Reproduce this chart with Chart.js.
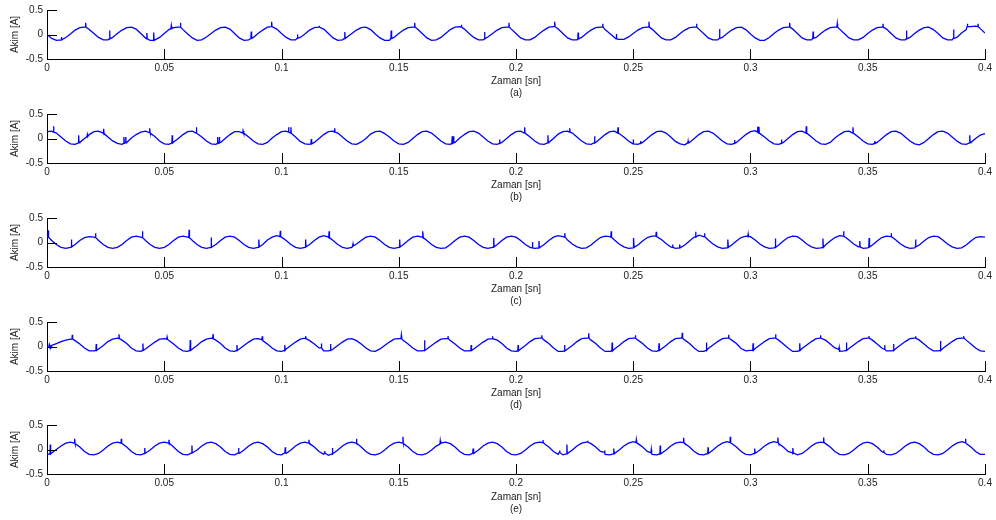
<!DOCTYPE html>
<html><head><meta charset="utf-8">
<script src="https://cdn.jsdelivr.net/npm/chart.js@4.4.1/dist/chart.umd.min.js"></script>
<style>
html,body{margin:0;padding:0;background:#fff;width:996px;height:520px;overflow:hidden;}
canvas{position:absolute;left:0;}
</style></head><body>
<script>
// ---------- data ----------
const panelLabels = ['(a)', '(b)', '(c)', '(d)', '(e)'];
const xTitle = 'Zaman [sn]';
const yTitle = 'Akim [A]';
const xTickValues = [0, 0.05, 0.1, 0.15, 0.2, 0.25, 0.3, 0.35, 0.4];
const xTickLabels = ['0', '0.05', '0.1', '0.15', '0.2', '0.25', '0.3', '0.35', '0.4'];
const yTickValues = [-0.5, 0, 0.5];
const yTickLabels = ['-0.5', '0', '0.5'];
const sampleStep = 0.002; // seconds between base samples

const baseA = [
 0.00,-0.08,-0.12,-0.11,-0.06, 0.01, 0.09, 0.14, 0.15, 0.10,
 0.02,-0.06,-0.11,-0.11,-0.06, 0.02, 0.09, 0.14, 0.15, 0.11,
 0.02,-0.07,-0.12,-0.12,-0.06, 0.02, 0.10, 0.14, 0.15, 0.10,
 0.01,-0.07,-0.12,-0.11,-0.05, 0.02, 0.09, 0.14, 0.15, 0.11,
 0.02,-0.07,-0.12,-0.11,-0.06, 0.02, 0.09, 0.15, 0.16, 0.11,
 0.02,-0.06,-0.11,-0.11,-0.06, 0.01, 0.09, 0.14, 0.15, 0.11,
 0.02,-0.07,-0.12,-0.11,-0.05, 0.02, 0.09, 0.14, 0.15, 0.10,
 0.01,-0.07,-0.12,-0.12,-0.06, 0.02, 0.09, 0.14, 0.15, 0.11,
 0.02,-0.07,-0.12,-0.11,-0.06, 0.02, 0.10, 0.15, 0.16, 0.11,
 0.02,-0.06,-0.11,-0.11,-0.05, 0.02, 0.09, 0.14, 0.15, 0.11,
 0.02,-0.07,-0.11,-0.11,-0.06, 0.02, 0.09, 0.15, 0.16, 0.11,
 0.02,-0.07,-0.11,-0.11,-0.06, 0.02, 0.09, 0.14, 0.15, 0.10,
 0.02,-0.06,-0.10,-0.10,-0.05, 0.02, 0.09, 0.14, 0.15, 0.11,
 0.02,-0.07,-0.11,-0.11,-0.06, 0.02, 0.09, 0.14, 0.15, 0.11,
 0.02,-0.07,-0.11,-0.11,-0.06, 0.02, 0.09, 0.14, 0.15, 0.10,
 0.01,-0.07,-0.12,-0.12,-0.06, 0.02, 0.09, 0.14, 0.15, 0.11,
 0.02,-0.07,-0.11,-0.11,-0.06, 0.02, 0.09, 0.14, 0.15, 0.11,
 0.02,-0.07,-0.11,-0.11,-0.06, 0.02, 0.09, 0.14, 0.15, 0.11,
 0.02,-0.07,-0.11,-0.11,-0.06, 0.02, 0.09, 0.14, 0.15, 0.10,
 0.02,-0.07,-0.11,-0.11,-0.06, 0.03, 0.10, 0.16, 0.17, 0.12,
 0.03];
const spikesA = [ // [time, base, tip]
 [0.0062,-0.11,-0.05],[0.0165,0.15,0.24],[0.0267,-0.09,0.08],[0.0426,-0.09,0.03],[0.0455,-0.12,0.04],
 [0.0530,0.12,0.18],[0.0569,0.15,0.24],[0.0871,-0.08,0.06],[0.0958,0.16,0.26],[0.1068,-0.08,0.00],
 [0.1160,0.15,0.18],[0.1270,-0.08,0.05],[0.1468,-0.08,0.08],[0.1568,0.15,0.24],[0.1767,0.15,0.20],
 [0.1866,-0.09,0.05],[0.1970,0.15,0.24],[0.2165,0.16,0.26],[0.2265,-0.09,0.04],[0.2370,0.15,0.22],
 [0.2428,-0.09,0.01],[0.2567,0.15,0.26],[0.2770,0.15,0.22],[0.2868,-0.08,0.11],[0.3167,0.15,0.24],
 [0.3267,-0.08,0.06],[0.3370,0.15,0.22],[0.3565,0.15,0.22],[0.3665,-0.09,0.08],[0.3866,-0.08,0.10],
 [0.3925,0.16,0.22],[0.3970,0.16,0.22]];

const baseB = [
 0.14, 0.15, 0.11, 0.03,-0.05,-0.11,-0.12,-0.08, 0.00, 0.08,
 0.14, 0.15, 0.11, 0.03,-0.05,-0.10,-0.12,-0.08, 0.01, 0.08,
 0.13, 0.15, 0.11, 0.04,-0.05,-0.11,-0.12,-0.07, 0.00, 0.08,
 0.14, 0.15, 0.10, 0.03,-0.05,-0.11,-0.12,-0.08, 0.00, 0.08,
 0.14, 0.14, 0.11, 0.03,-0.05,-0.11,-0.12,-0.08, 0.01, 0.08,
 0.14, 0.15, 0.11, 0.03,-0.06,-0.11,-0.12,-0.08, 0.00, 0.08,
 0.14, 0.15, 0.11, 0.03,-0.05,-0.11,-0.12,-0.07, 0.00, 0.09,
 0.14, 0.15, 0.10, 0.03,-0.05,-0.11,-0.12,-0.08, 0.00, 0.08,
 0.14, 0.15, 0.11, 0.03,-0.05,-0.11,-0.12,-0.08, 0.01, 0.08,
 0.14, 0.15, 0.11, 0.03,-0.05,-0.11,-0.12,-0.08, 0.00, 0.08,
 0.14, 0.15, 0.11, 0.03,-0.05,-0.11,-0.12,-0.08, 0.00, 0.09,
 0.14, 0.15, 0.11, 0.03,-0.05,-0.11,-0.12,-0.08, 0.00, 0.08,
 0.14, 0.15, 0.10, 0.03,-0.05,-0.11,-0.12,-0.08, 0.00, 0.08,
 0.14, 0.15, 0.11, 0.03,-0.06,-0.11,-0.13,-0.08, 0.00, 0.08,
 0.14, 0.15, 0.11, 0.03,-0.05,-0.11,-0.12,-0.08, 0.00, 0.08,
 0.14, 0.16, 0.11, 0.03,-0.05,-0.11,-0.12,-0.08, 0.00, 0.08,
 0.14, 0.15, 0.11, 0.03,-0.05,-0.11,-0.12,-0.08, 0.01, 0.08,
 0.14, 0.15, 0.11, 0.03,-0.05,-0.11,-0.12,-0.08, 0.00, 0.08,
 0.14, 0.15, 0.11, 0.03,-0.05,-0.11,-0.13,-0.08, 0.00, 0.08,
 0.14, 0.15, 0.11, 0.03,-0.05,-0.11,-0.12,-0.08, 0.00, 0.07,
 0.10];
const spikesB = [
 [0.0028,0.13,0.25],[0.0135,-0.09,0.065],[0.0172,0.04,0.08],[0.0242,0.10,0.20],[0.0328,-0.10,0.03],
 [0.0336,-0.09,0.03],[0.0438,0.12,0.21],[0.0534,-0.09,0.065],[0.0637,0.11,0.23],[0.0728,-0.10,0.03],
 [0.0735,-0.09,0.03],[0.0836,0.11,0.16],[0.1030,0.13,0.23],[0.1040,0.11,0.23],[0.1127,-0.11,-0.01],
 [0.1227,0.13,0.21],[0.1728,-0.10,0.045],[0.1734,-0.09,0.045],[0.1930,-0.10,-0.02],[0.2037,0.11,0.23],
 [0.2136,-0.09,0.065],[0.2229,0.13,0.21],[0.2335,-0.09,0.045],[0.2435,0.11,0.23],[0.2500,-0.11,-0.02],
 [0.2531,-0.10,-0.05],[0.2734,-0.09,-0.05],[0.2932,-0.10,-0.03],[0.3030,0.13,0.24],[0.3036,0.11,0.24],
 [0.3132,-0.10,-0.02],[0.3238,0.11,0.25],[0.3437,0.11,0.23],[0.3530,-0.10,-0.05],[0.3935,-0.09,0.065]];

const baseC = [
 0.10, 0.04,-0.04,-0.10,-0.12,-0.10,-0.04, 0.04, 0.10, 0.12,
 0.11, 0.04,-0.04,-0.10,-0.12,-0.10,-0.04, 0.04, 0.11, 0.13,
 0.11, 0.04,-0.04,-0.10,-0.12,-0.10,-0.04, 0.04, 0.11, 0.13,
 0.11, 0.04,-0.04,-0.10,-0.12,-0.10,-0.04, 0.04, 0.11, 0.13,
 0.11, 0.04,-0.04,-0.10,-0.12,-0.10,-0.04, 0.05, 0.11, 0.14,
 0.11, 0.04,-0.04,-0.10,-0.12,-0.10,-0.04, 0.04, 0.11, 0.14,
 0.11, 0.04,-0.04,-0.10,-0.12,-0.10,-0.03, 0.04, 0.11, 0.13,
 0.11, 0.04,-0.04,-0.10,-0.12,-0.10,-0.04, 0.04, 0.11, 0.13,
 0.11, 0.04,-0.04,-0.10,-0.12,-0.11,-0.04, 0.04, 0.11, 0.13,
 0.11, 0.04,-0.04,-0.10,-0.12,-0.10,-0.04, 0.04, 0.11, 0.13,
 0.11, 0.04,-0.04,-0.10,-0.12,-0.11,-0.04, 0.04, 0.11, 0.14,
 0.12, 0.05,-0.03,-0.09,-0.12,-0.11,-0.05, 0.03, 0.10, 0.13,
 0.12, 0.05,-0.03,-0.09,-0.12,-0.11,-0.05, 0.03, 0.10, 0.13,
 0.12, 0.06,-0.02,-0.09,-0.12,-0.11,-0.05, 0.03, 0.11, 0.15,
 0.12, 0.05,-0.03,-0.09,-0.12,-0.11,-0.05, 0.03, 0.10, 0.13,
 0.12, 0.05,-0.03,-0.09,-0.12,-0.11,-0.05, 0.03, 0.10, 0.13,
 0.12, 0.05,-0.03,-0.09,-0.12,-0.11,-0.05, 0.03, 0.10, 0.14,
 0.12, 0.05,-0.03,-0.09,-0.12,-0.11,-0.05, 0.03, 0.10, 0.13,
 0.12, 0.05,-0.03,-0.09,-0.12,-0.11,-0.05, 0.03, 0.10, 0.13,
 0.12, 0.05,-0.03,-0.09,-0.12,-0.11,-0.05, 0.03, 0.10, 0.12,
 0.11];
const spikesC = [
 [0.0005,0.11,0.25],[0.0104,-0.09,0.06],[0.0207,0.10,0.19],[0.0407,0.10,0.23],[0.0606,0.10,0.26],
 [0.0700,-0.10,0.10],[0.0904,-0.09,0.06],[0.0995,0.12,0.24],[0.1103,-0.09,0.06],[0.1203,0.10,0.23],
 [0.1305,-0.07,-0.03],[0.1504,-0.09,0.06],[0.1603,0.10,0.23],[0.1905,-0.09,0.09],[0.2070,-0.11,0.01],
 [0.2098,-0.11,0.03],[0.2208,0.11,0.19],[0.2406,0.11,0.23],[0.2502,-0.10,0.09],[0.2598,0.13,0.22],
 [0.2668,-0.10,-0.04],[0.2698,-0.11,-0.04],[0.2766,0.11,0.22],[0.2804,0.12,0.19],[0.2904,-0.10,0.06],
 [0.2990,0.12,0.17],[0.3106,-0.10,0.08],[0.3309,-0.10,0.08],[0.3397,0.13,0.23],[0.3466,-0.09,0.03],
 [0.3506,-0.09,0.09],[0.3600,0.12,0.19],[0.3704,-0.09,0.06]];

const baseD = [
 0.00, 0.02, 0.06, 0.10, 0.13, 0.15, 0.12, 0.05,-0.03,-0.09,
-0.09,-0.05, 0.02, 0.10, 0.15, 0.17, 0.13, 0.06,-0.03,-0.09,
-0.10,-0.05, 0.02, 0.09, 0.15, 0.16, 0.12, 0.05,-0.03,-0.09,
-0.10,-0.05, 0.02, 0.10, 0.15, 0.17, 0.13, 0.06,-0.03,-0.09,
-0.10,-0.05, 0.02, 0.09, 0.15, 0.16, 0.12, 0.05,-0.03,-0.09,
-0.10,-0.05, 0.02, 0.09, 0.15, 0.17, 0.12, 0.05,-0.03,-0.09,
-0.09,-0.05, 0.02, 0.09, 0.15, 0.16, 0.12, 0.05,-0.03,-0.09,
-0.10,-0.05, 0.02, 0.09, 0.15, 0.16, 0.12, 0.05,-0.03,-0.09,
-0.09,-0.05, 0.02, 0.09, 0.15, 0.16, 0.12, 0.05,-0.03,-0.09,
-0.09,-0.05, 0.02, 0.09, 0.15, 0.17, 0.13, 0.06,-0.03,-0.09,
-0.10,-0.05, 0.02, 0.10, 0.16, 0.17, 0.13, 0.06,-0.03,-0.10,
-0.10,-0.05, 0.02, 0.10, 0.16, 0.17, 0.13, 0.06,-0.03,-0.10,
-0.10,-0.05, 0.02, 0.10, 0.16, 0.17, 0.13, 0.06,-0.03,-0.09,
-0.10,-0.05, 0.02, 0.10, 0.16, 0.17, 0.13, 0.06,-0.03,-0.10,
-0.10,-0.04, 0.03, 0.10, 0.16, 0.17, 0.13, 0.06,-0.04,-0.09,
-0.08,-0.04, 0.03, 0.10, 0.16, 0.17, 0.13, 0.05,-0.03,-0.10,
-0.10,-0.04, 0.03, 0.10, 0.16, 0.17, 0.13, 0.05,-0.03,-0.10,
-0.09,-0.04, 0.03, 0.10, 0.16, 0.17, 0.13, 0.05,-0.03,-0.09,
-0.09,-0.04, 0.03, 0.10, 0.16, 0.17, 0.13, 0.05,-0.03,-0.09,
-0.09,-0.04, 0.03, 0.10, 0.16, 0.17, 0.13, 0.05,-0.03,-0.09,
-0.10];
const spikesD = [
 [0.0010,0.01,0.04],[0.0016,0.01,-0.05],[0.0108,0.15,0.24],[0.0210,-0.08,0.05],[0.0307,0.16,0.25],
 [0.0409,-0.08,0.06],[0.0512,0.15,0.19],[0.0611,-0.08,0.13],[0.0708,0.16,0.25],[0.0810,-0.08,0.03],
 [0.0918,0.14,0.21],[0.1014,-0.08,0.03],[0.1103,0.16,0.21],[0.1170,-0.03,0.06],[0.1209,-0.08,0.05],
 [0.1511,0.16,0.23],[0.1610,-0.08,0.13],[0.1710,0.16,0.21],[0.1809,-0.08,0.03],[0.1900,0.16,0.21],
 [0.2009,-0.09,0.03],[0.2110,0.17,0.23],[0.2207,-0.09,0.03],[0.2310,0.17,0.27],[0.2410,-0.09,0.08],
 [0.2509,0.17,0.23],[0.2610,-0.08,0.065],[0.2709,0.17,0.28],[0.2812,-0.08,0.08],[0.2907,0.17,0.24],
 [0.3011,-0.08,0.065],[0.3107,0.17,0.25],[0.3210,-0.08,0.065],[0.3298,0.17,0.23],[0.3378,-0.06,-0.02],
 [0.3409,-0.08,0.08],[0.3505,0.17,0.21],[0.3572,-0.06,0.03],[0.3610,-0.08,0.05],[0.3704,0.17,0.21],
 [0.3810,-0.08,0.11],[0.3909,0.17,0.21]];

const baseE = [
-0.10,-0.07, 0.00, 0.07, 0.13, 0.15, 0.12, 0.05,-0.04,-0.10,
-0.11,-0.08,-0.01, 0.07, 0.13, 0.15, 0.12, 0.05,-0.04,-0.10,
-0.11,-0.08,-0.01, 0.07, 0.13, 0.15, 0.12, 0.05,-0.04,-0.10,
-0.11,-0.07,-0.01, 0.07, 0.13, 0.15, 0.12, 0.05,-0.04,-0.10,
-0.11,-0.08,-0.01, 0.07, 0.13, 0.15, 0.12, 0.05,-0.04,-0.10,
-0.11,-0.08,-0.01, 0.07, 0.13, 0.15, 0.12, 0.05,-0.04,-0.10,
-0.12,-0.08,-0.01, 0.07, 0.13, 0.15, 0.12, 0.05,-0.04,-0.10,
-0.11,-0.08,-0.01, 0.07, 0.13, 0.15, 0.12, 0.05,-0.04,-0.10,
-0.11,-0.08,-0.01, 0.07, 0.13, 0.15, 0.12, 0.05,-0.04,-0.10,
-0.11,-0.08,-0.01, 0.07, 0.13, 0.15, 0.12, 0.05,-0.04,-0.10,
-0.11,-0.08,-0.01, 0.07, 0.13, 0.15, 0.12, 0.05,-0.04,-0.10,
-0.11,-0.08,-0.01, 0.07, 0.13, 0.15, 0.12, 0.05,-0.04,-0.10,
-0.11,-0.08,-0.01, 0.07, 0.13, 0.16, 0.12, 0.05,-0.04,-0.10,
-0.11,-0.08,-0.01, 0.07, 0.13, 0.15, 0.12, 0.05,-0.04,-0.10,
-0.11,-0.08,-0.01, 0.07, 0.13, 0.16, 0.12, 0.05,-0.04,-0.10,
-0.11,-0.08,-0.01, 0.07, 0.13, 0.16, 0.12, 0.05,-0.04,-0.10,
-0.11,-0.08,-0.01, 0.07, 0.13, 0.15, 0.12, 0.05,-0.04,-0.10,
-0.11,-0.08,-0.01, 0.07, 0.13, 0.15, 0.12, 0.05,-0.04,-0.10,
-0.11,-0.08,-0.01, 0.07, 0.13, 0.15, 0.12, 0.05,-0.04,-0.10,
-0.11,-0.08,-0.01, 0.07, 0.13, 0.16, 0.12, 0.05,-0.04,-0.10,
-0.10];
const spikesE = [
 [0.0014,-0.09,0.10],[0.0118,0.13,0.22],[0.0317,0.13,0.22],[0.0417,-0.08,0.03],[0.0520,0.13,0.20],
 [0.0618,-0.07,0.08],[0.0817,-0.07,0.03],[0.1016,-0.07,0.045],[0.1117,0.13,0.20],[0.1184,-0.07,-0.03],
 [0.1217,-0.09,0.03],[0.1320,0.13,0.22],[0.1518,0.13,0.26],[0.1677,0.11,0.18],[0.1817,-0.08,0.02],
 [0.2115,0.14,0.19],[0.2186,-0.06,-0.02],[0.2217,-0.09,0.10],[0.2305,0.15,0.18],[0.2378,-0.06,-0.02],
 [0.2417,-0.09,0.02],[0.2513,0.14,0.20],[0.2577,-0.07,0.00],[0.2615,-0.09,0.08],[0.2715,0.14,0.24],
 [0.2819,-0.08,0.045],[0.2914,0.14,0.26],[0.3018,-0.08,0.02],[0.3117,0.14,0.245],[0.3181,-0.07,0.03],
 [0.3312,0.14,0.245],[0.3568,-0.06,-0.02],[0.3917,0.14,0.22]];

const panelBases = [baseA, baseB, baseC, baseD, baseE];
const panelSpikes = [spikesA, spikesB, spikesC, spikesD, spikesE];

// ---------- layout / style ----------
const canvasTops = [0, 104, 208, 312, 415];
const canvasHeights = [104, 104, 104, 104, 105];
const plotTopInCanvas = 7;
const plotHeight = 52;
const plotLeft = 47;
const plotRightGap = 11;
const tickLen = 10;
const spikeHalfWidth = 0.00015;
const fontFamily = '"Liberation Sans", Arial, Helvetica, sans-serif';
const textColor = '#222';

function buildSeries(base, spikes) {
  const pts = base.map((v, i) => ({ x: +(i * sampleStep).toFixed(4), y: v }));
  spikes.forEach(([t, b, p]) => {
    pts.push({ x: t - spikeHalfWidth, y: b }, { x: t, y: p }, { x: t + spikeHalfWidth, y: b });
  });
  pts.sort((m, n) => m.x - n.x);
  return pts;
}

const inwardTicks = {
  id: 'inwardTicks',
  afterDraw(chart) {
    const { ctx, chartArea: a, scales: { x, y } } = chart;
    ctx.save();
    ctx.strokeStyle = '#000';
    ctx.lineWidth = 1;
    ctx.beginPath();
    xTickValues.forEach(v => {
      const px = Math.round(x.getPixelForValue(v)) + 0.5;
      ctx.moveTo(px, a.bottom);
      ctx.lineTo(px, a.bottom - tickLen);
    });
    yTickValues.forEach(v => {
      const py = Math.round(y.getPixelForValue(v)) + 0.5;
      ctx.moveTo(a.left, py);
      ctx.lineTo(a.left + tickLen, py);
    });
    ctx.stroke();
    ctx.restore();
  }
};

Chart.defaults.font.family = fontFamily;
Chart.defaults.color = textColor;

panelLabels.forEach((label, i) => {
  const cv = document.createElement('canvas');
  cv.width = 996;
  cv.height = canvasHeights[i];
  cv.style.top = canvasTops[i] + 'px';
  cv.style.width = '996px';
  cv.style.height = canvasHeights[i] + 'px';
  document.body.appendChild(cv);
  const xScaleHeight = canvasHeights[i] - plotTopInCanvas - plotHeight;

  new Chart(cv.getContext('2d'), {
    type: 'line',
    data: {
      datasets: [{
        data: buildSeries(panelBases[i], panelSpikes[i]),
        borderColor: '#0000ff',
        borderWidth: 1.3,
        pointRadius: 0,
        tension: 0,
        fill: false
      }]
    },
    options: {
      responsive: false,
      devicePixelRatio: 1,
      animation: false,
      events: [],
      layout: { autoPadding: false, padding: { left: 0, top: plotTopInCanvas, right: plotRightGap, bottom: 0 } },
      plugins: { legend: { display: false }, tooltip: { enabled: false }, title: { display: false } },
      scales: {
        x: {
          type: 'linear',
          min: 0, max: 0.4,
          afterBuildTicks: s => { s.ticks = xTickValues.map(v => ({ value: v })); },
          afterFit: s => { s.height = xScaleHeight; },
          grid: { display: false, drawTicks: false },
          border: { display: true, color: '#000', width: 1 },
          ticks: {
            autoSkip: false, maxRotation: 0, padding: 3,
            font: { size: 10 }, color: textColor,
            callback: (v, idx) => xTickLabels[idx]
          },
          title: {
            display: true,
            text: [xTitle, label],
            font: { size: 10, lineHeight: 1.16 },
            color: textColor,
            padding: { top: 0, bottom: 5 }
          }
        },
        y: {
          type: 'linear',
          min: -0.5, max: 0.5,
          afterBuildTicks: s => { s.ticks = yTickValues.map(v => ({ value: v })); },
          afterFit: s => { s.width = plotLeft; },
          grid: { display: false, drawTicks: false },
          border: { display: true, color: '#000', width: 1 },
          ticks: {
            autoSkip: false, padding: 4,
            font: { size: 10 }, color: textColor,
            callback: (v, idx) => yTickLabels[idx]
          },
          title: {
            display: true,
            text: yTitle,
            font: { size: 10, lineHeight: 1.16 },
            color: textColor,
            padding: { top: 9, bottom: 0 }
          }
        }
      }
    },
    plugins: [inwardTicks]
  });
});
</script>
</body></html>
